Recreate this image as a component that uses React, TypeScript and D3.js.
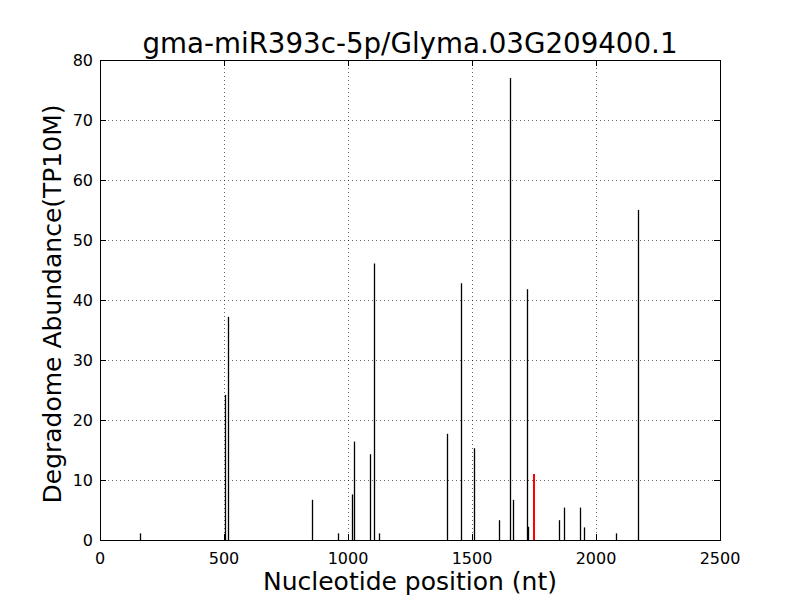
import React from "react";
import * as d3 from "d3";

const positions = [163, 504, 516, 856, 961, 1017, 1025, 1089, 1106, 1126, 1398, 1457, 1509, 1610, 1655, 1667, 1723, 1727, 1852, 1872, 1937, 1953, 2082, 2171];
const abundances = [1.1, 24.2, 37.2, 6.7, 1.1, 7.6, 16.4, 14.3, 46.1, 1.1, 17.7, 42.8, 15.3, 3.3, 77, 6.7, 41.8, 2.2, 3.3, 5.4, 5.4, 2.1, 1.1, 55];
const targetPositions = [1750];
const targetAbundances = [11];
const xTicks = [0, 500, 1000, 1500, 2000, 2500];
const yTicks = [0, 10, 20, 30, 40, 50, 60, 70, 80];
const title = "gma-miR393c-5p/Glyma.03G209400.1";
const xLabel = "Nucleotide position (nt)";
const yLabel = "Degradome Abundance(TP10M)";

export default function App() {
  const W = 800, H = 600;
  const left = 100, right = 720, top = 60, bottom = 540;
  const x = d3.scaleLinear().domain([0, 2500]).range([left, right]);
  const y = d3.scaleLinear().domain([0, 80]).range([bottom, top]);
  const font = "DejaVu Sans, sans-serif";
  return (
    <svg width={W} height={H} style={{ position: "absolute", left: 0, top: 0, background: "#fff" }} fontFamily={font}>
      <rect x={0} y={0} width={W} height={H} fill="#fff" />
      {/* grid */}
      {xTicks.slice(1, -1).map((t) => (
        <line key={"gx" + t} x1={Math.round(x(t)) + 0.5} x2={Math.round(x(t)) + 0.5} y1={top} y2={bottom} stroke="#000" strokeWidth={0.6} strokeDasharray="1,3" />
      ))}
      {yTicks.slice(1, -1).map((t) => (
        <line key={"gy" + t} x1={left} x2={right} y1={Math.round(y(t)) + 0.5} y2={Math.round(y(t)) + 0.5} stroke="#000" strokeWidth={0.6} strokeDasharray="1,3" />
      ))}
      {/* bars */}
      {positions.map((p, i) => (
        <line key={"b" + i} x1={Math.round(x(p)) + 0.5} x2={Math.round(x(p)) + 0.5} y1={y(0)} y2={y(abundances[i])} stroke="#000" strokeWidth={1.3} />
      ))}
      {targetPositions.map((p, i) => (
        <line key={"r" + i} x1={Math.round(x(p))} x2={Math.round(x(p))} y1={y(0)} y2={y(targetAbundances[i])} stroke="#ff0000" strokeWidth={2} />
      ))}
      {/* ticks inward */}
      {xTicks.map((t) => (
        <g key={"tx" + t}>
          <line x1={Math.round(x(t)) + 0.5} x2={Math.round(x(t)) + 0.5} y1={bottom} y2={bottom - 6} stroke="#000" />
          <line x1={Math.round(x(t)) + 0.5} x2={Math.round(x(t)) + 0.5} y1={top} y2={top + 6} stroke="#000" />
          <text x={x(t)} y={bottom + 24} fontSize={16} textAnchor="middle">{t}</text>
        </g>
      ))}
      {yTicks.map((t) => (
        <g key={"ty" + t}>
          <line x1={left} x2={left + 6} y1={Math.round(y(t)) + 0.5} y2={Math.round(y(t)) + 0.5} stroke="#000" />
          <line x1={right} x2={right - 6} y1={Math.round(y(t)) + 0.5} y2={Math.round(y(t)) + 0.5} stroke="#000" />
          <text x={left - 7} y={y(t) + 6} fontSize={16} textAnchor="end">{t}</text>
        </g>
      ))}
      <rect x={left + 0.5} y={top + 0.5} width={right - left} height={bottom - top} fill="none" stroke="#000" strokeWidth={1} />
      <text x={(left + right) / 2} y={53} fontSize={27.7} textAnchor="middle">{title}</text>
      <text x={(left + right) / 2} y={590} fontSize={25} textAnchor="middle">{xLabel}</text>
      <text transform={`translate(61,304) rotate(-90)`} fontSize={25} textAnchor="middle">{yLabel}</text>
    </svg>
  );
}
